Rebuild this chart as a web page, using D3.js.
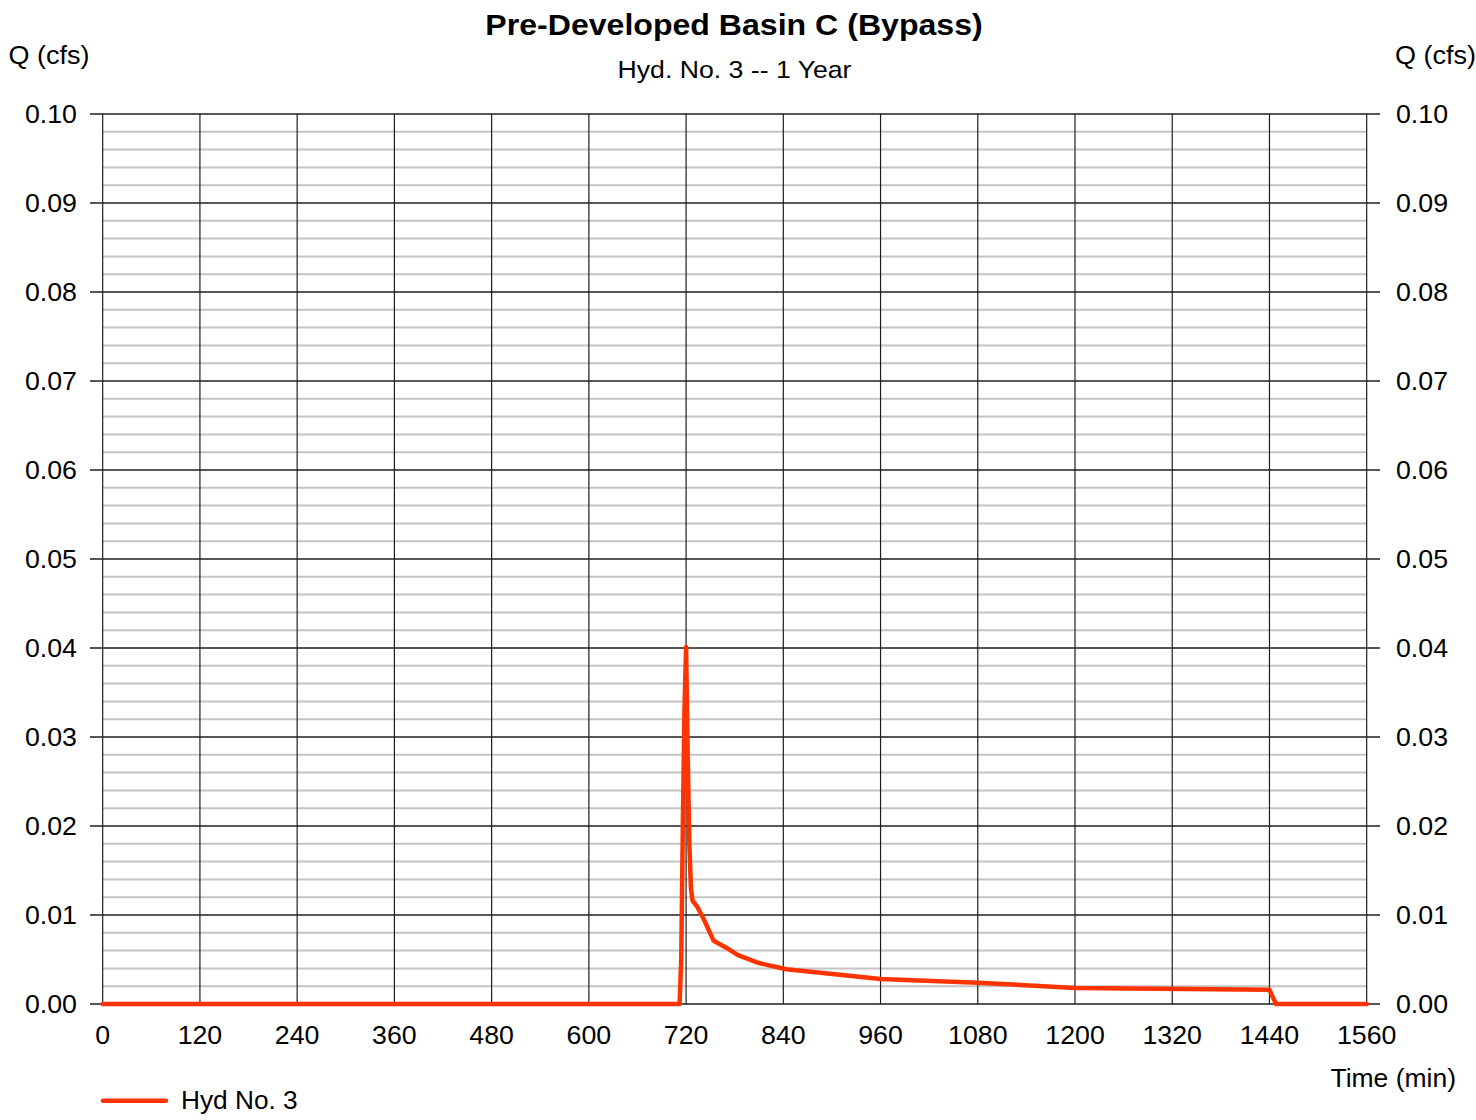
<!DOCTYPE html>
<html>
<head>
<meta charset="utf-8">
<script src="https://cdn.jsdelivr.net/npm/d3@7"></script>
<style>
  html, body { margin: 0; padding: 0; background: #ffffff; }
  svg { display: block; }
  text { font-family: "Liberation Sans", Arial, Helvetica, sans-serif; fill: #000; }
</style>
</head>
<body>
<script>
// ---- data ----
const chartTitle = "Pre-Developed Basin C (Bypass)";
const chartSubtitle = "Hyd. No. 3 -- 1 Year";
const yAxisLabel = "Q (cfs)";
const xAxisLabel = "Time (min)";
const seriesName = "Hyd No. 3";

const xTicks = [0, 120, 240, 360, 480, 600, 720, 840, 960, 1080, 1200, 1320, 1440, 1560];
const yTicks = [0.00, 0.01, 0.02, 0.03, 0.04, 0.05, 0.06, 0.07, 0.08, 0.09, 0.10];
const yMinorTicks = [0.002, 0.004, 0.006, 0.008, 0.012, 0.014, 0.016, 0.018, 0.022, 0.024, 0.026, 0.028,
  0.032, 0.034, 0.036, 0.038, 0.042, 0.044, 0.046, 0.048, 0.052, 0.054, 0.056, 0.058,
  0.062, 0.064, 0.066, 0.068, 0.072, 0.074, 0.076, 0.078, 0.082, 0.084, 0.086, 0.088,
  0.092, 0.094, 0.096, 0.098];

const timeMin = [0, 712, 714, 716, 718, 720, 722, 724, 726, 728, 734, 742, 748, 754, 770, 784, 810, 844, 960, 1080, 1200, 1440, 1442, 1446, 1448, 1560];
const flowCfs = [0, 0, 0.005, 0.020, 0.033, 0.0401, 0.028, 0.018, 0.013, 0.0116, 0.0109, 0.0095, 0.0083, 0.0071, 0.0063, 0.0055, 0.0046, 0.0039, 0.0028, 0.0024, 0.0018, 0.0016, 0.0012, 0.0004, 0, 0];

// ---- layout ----
const W = 1476, H = 1120;
const plot = { left: 102.7, right: 1366.7, top: 114, bottom: 1004 };

const svg = d3.select("body").append("svg").attr("width", W).attr("height", H);

const x = d3.scaleLinear().domain([0, 1560]).range([plot.left, plot.right]);
const y = d3.scaleLinear().domain([0, 0.1]).range([plot.bottom, plot.top]);

function txt(px, py, str, size, sx, anchor, weight) {
  return svg.append("text")
    .attr("transform", `translate(${px},${py}) scale(${sx},1)`)
    .attr("text-anchor", anchor || "start")
    .attr("font-size", size)
    .attr("font-weight", weight || "normal")
    .text(str);
}

// minor horizontal grid
svg.append("g").selectAll("line").data(yMinorTicks).join("line")
  .attr("x1", plot.left).attr("x2", plot.right)
  .attr("y1", d => y(d)).attr("y2", d => y(d))
  .attr("stroke", "#c4c4c4").attr("stroke-width", 2);

// major horizontal grid (extends as ticks on both sides)
svg.append("g").selectAll("line").data(yTicks).join("line")
  .attr("x1", 90).attr("x2", 1380)
  .attr("y1", d => y(d)).attr("y2", d => y(d))
  .attr("stroke", "#1e1e1e").attr("stroke-width", 1.4);

// vertical grid
svg.append("g").selectAll("line").data(xTicks).join("line")
  .attr("x1", d => x(d)).attr("x2", d => x(d))
  .attr("y1", plot.top).attr("y2", plot.bottom)
  .attr("stroke", "#1e1e1e").attr("stroke-width", 1.2);

// axis tick labels
yTicks.forEach(v => {
  txt(77, y(v) + 9, v.toFixed(2), 25, 1.07, "end");
  txt(1396, y(v) + 9, v.toFixed(2), 25, 1.07, "start");
});
xTicks.forEach(v => {
  txt(x(v), 1044, String(v), 25, 1.07, "middle");
});

// titles
txt(734, 35.3, chartTitle, 30, 1.07, "middle", "bold");
txt(734.5, 78.3, chartSubtitle, 24, 1.11, "middle");
txt(8.5, 63.5, yAxisLabel, 25, 1.08, "start");
txt(1476, 63.5, yAxisLabel, 25, 1.08, "end");
txt(1456, 1087, xAxisLabel, 25, 1.06, "end");

// series line
const pts = timeMin.map((t, i) => [t, flowCfs[i]]);
const line = d3.line().x(d => x(d[0])).y(d => y(d[1]));
svg.append("path")
  .attr("d", line(pts))
  .attr("fill", "none")
  .attr("stroke", "#ff3300")
  .attr("stroke-width", 4.5)
  .attr("stroke-linejoin", "round")
  .attr("stroke-linecap", "round");

// legend
svg.append("line")
  .attr("x1", 103).attr("x2", 166).attr("y1", 1100.7).attr("y2", 1100.7)
  .attr("stroke", "#ff3300").attr("stroke-width", 4.5).attr("stroke-linecap", "round");
txt(181, 1109, seriesName, 25, 1.05, "start");
</script>
</body>
</html>
